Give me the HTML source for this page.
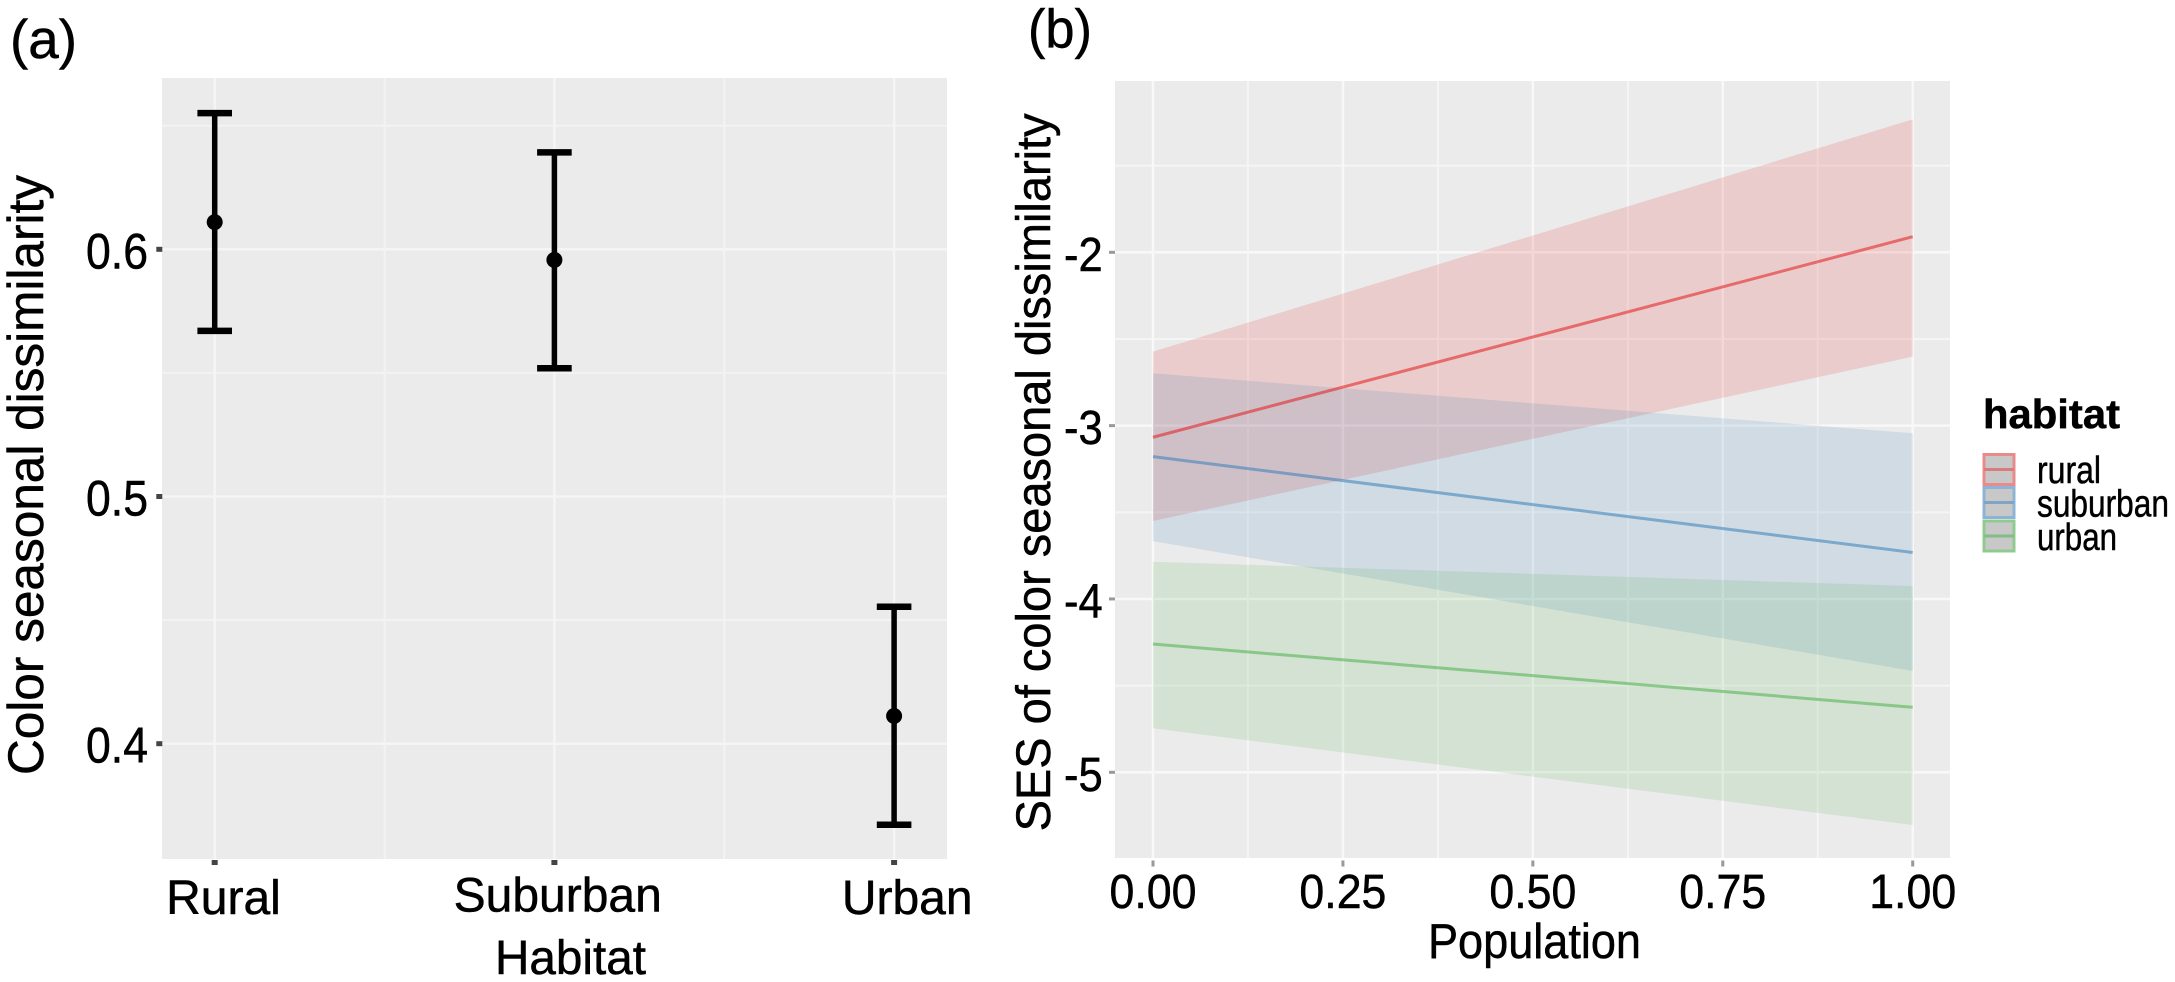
<!DOCTYPE html>
<html lang="en">
<head>
<meta charset="utf-8">
<title>Color seasonal dissimilarity by habitat and population</title>
<style>
  html, body { margin: 0; padding: 0; background: #fff; }
  body { width: 2175px; height: 982px; overflow: hidden; }
  svg { display: block; }
  text { font-family: "Liberation Sans", Arial, sans-serif; fill: #000; stroke: #000; stroke-width: 0.5px; }
</style>
</head>
<body>
<svg id="figure" xmlns="http://www.w3.org/2000/svg" width="2175" height="982" viewBox="0 0 2175 982">
  <rect x="0" y="0" width="2175" height="982" fill="#fff"/>

  <text x="10" y="58" font-size="55" textLength="67" lengthAdjust="spacingAndGlyphs">(a)</text>
  <text x="1028" y="47.5" font-size="55" textLength="64" lengthAdjust="spacingAndGlyphs">(b)</text>

  <rect x="162" y="78" width="785" height="781" fill="#ebebeb"/>
  <g id="panel-a-grid"></g>
  <g id="panel-a-marks"></g>
  <g id="panel-a-axes"></g>
  <text transform="translate(43,475) rotate(-90)" text-anchor="middle" font-size="50" textLength="600" lengthAdjust="spacingAndGlyphs">Color seasonal dissimilarity</text>
  <text x="570.5" y="974" text-anchor="middle" font-size="48" textLength="151" lengthAdjust="spacingAndGlyphs">Habitat</text>

  <rect x="1115" y="81" width="835" height="777" fill="#ebebeb"/>
  <g id="panel-b-grid"></g>
  <g id="panel-b-ribbons"></g>
  <g id="panel-b-lines"></g>
  <g id="panel-b-axes"></g>
  <text transform="translate(1050,472.4) rotate(-90)" text-anchor="middle" font-size="48" textLength="718" lengthAdjust="spacingAndGlyphs">SES of color seasonal dissimilarity</text>
  <text x="1534.5" y="958" text-anchor="middle" font-size="49" textLength="213" lengthAdjust="spacingAndGlyphs">Population</text>

  <g>
    <text x="1983" y="428" font-size="41" font-weight="bold" textLength="137" lengthAdjust="spacingAndGlyphs">habitat</text>

    <g>
      <rect x="1984" y="454.5" width="30" height="30" fill="#c8c8c8" stroke="#e98b8c" stroke-width="3"/>
      <line x1="1984" x2="2014" y1="469.5" y2="469.5" stroke="#d97c7e" stroke-width="3"/>
      <text x="2037" y="483" font-size="38" textLength="64" lengthAdjust="spacingAndGlyphs">rural</text>
    </g>
    <g>
      <rect x="1984" y="487.5" width="30" height="30" fill="#c8c8c8" stroke="#8db3d6" stroke-width="3"/>
      <line x1="1984" x2="2014" y1="502.5" y2="502.5" stroke="#7fa4c6" stroke-width="3"/>
      <text x="2037" y="516.7" font-size="38" textLength="132" lengthAdjust="spacingAndGlyphs">suburban</text>
    </g>
    <g>
      <rect x="1984" y="521" width="30" height="30" fill="#c8c8c8" stroke="#8fcb8f" stroke-width="3"/>
      <line x1="1984" x2="2014" y1="536" y2="536" stroke="#84bd85" stroke-width="3"/>
      <text x="2037" y="550" font-size="38" textLength="80" lengthAdjust="spacingAndGlyphs">urban</text>
    </g>
  </g>
</svg>

<script>
// ---- Panel (a) data ----
const habitatCategories = ["Rural", "Suburban", "Urban"];
const habitatMeans = [0.611, 0.5957, 0.4112];
const habitatLower = [0.567, 0.5519, 0.3672];
const habitatUpper = [0.6551, 0.6392, 0.4554];
const habitatYTicks = [0.4, 0.5, 0.6];
const habitatYMinorTicks = [0.45, 0.55, 0.65];
const habitatYTickLabels = ["0.4", "0.5", "0.6"];

// ---- Panel (b) data ----
const populationValues = [0, 1];
const ruralFit = [-3.067, -1.91];
const ruralLower = [-3.55, -2.602];
const ruralUpper = [-2.573, -1.233];
const suburbanFit = [-3.179, -3.732];
const suburbanLower = [-3.666, -4.415];
const suburbanUpper = [-2.698, -3.044];
const urbanFit = [-4.26, -4.625];
const urbanLower = [-4.746, -5.304];
const urbanUpper = [-3.785, -3.926];
const populationXTicks = [0, 0.25, 0.5, 0.75, 1];
const populationXMinorTicks = [0.125, 0.375, 0.625, 0.875];
const populationXTickLabels = ["0.00", "0.25", "0.50", "0.75", "1.00"];
const sesYTicks = [-5, -4, -3, -2];
const sesYMinorTicks = [-4.5, -3.5, -2.5, -1.5];
const sesYTickLabels = ["-5", "-4", "-3", "-2"];

// ---- Axis functions ----
function xA(i) { return 214.7 + i * 339.7; }
function yA(v) { return 249.3 + (0.6 - v) * 2472; }
function xB(v) { return 1153 + v * 759.7; }
function yB(v) { return 252.3 + (-2 - v) * 173.33; }

const NS = "http://www.w3.org/2000/svg";
function make(tag, parent, props) {
  const el = document.createElementNS(NS, tag);
  for (const k in props) el.setAttribute(k, props[k]);
  parent.appendChild(el);
  return el;
}

const gridA = document.getElementById("panel-a-grid");
const marksA = document.getElementById("panel-a-marks");
const axesA = document.getElementById("panel-a-axes");
const gridB = document.getElementById("panel-b-grid");
const ribbonsB = document.getElementById("panel-b-ribbons");
const linesB = document.getElementById("panel-b-lines");
const axesB = document.getElementById("panel-b-axes");

// ---- Panel (a) grid ----
habitatYMinorTicks.forEach(function (v) {
  const el = make("line", gridA, { x1: 162, x2: 947, y1: yA(v), y2: yA(v), stroke: "#f3f3f3", "stroke-width": 2 });
  
  
});
habitatYTicks.forEach(function (v) {
  const el = make("line", gridA, { x1: 162, x2: 947, y1: yA(v), y2: yA(v), stroke: "#f5f5f5", "stroke-width": 2.5 });
  
  
});
habitatCategories.forEach(function (c, i) {
  const el = make("line", gridA, { x1: xA(i), x2: xA(i), y1: 78, y2: 859, stroke: "#f5f5f5", "stroke-width": 2.5 });
  
  
  if (i < habitatCategories.length - 1) {
    const minor = make("line", gridA, { x1: xA(i + 0.5), x2: xA(i + 0.5), y1: 78, y2: 859, stroke: "#f3f3f3", "stroke-width": 2 });
    
    
  }
});

// ---- Panel (a) error bars and means ----
habitatCategories.forEach(function (c, i) {
  const x = xA(i);
  const stem = make("line", marksA, { x1: x, x2: x, y1: yA(habitatUpper[i]), y2: yA(habitatLower[i]), stroke: "#000", "stroke-width": 5.5 });
  
  
  const capTop = make("line", marksA, { x1: x - 17.3, x2: x + 17.3, y1: yA(habitatUpper[i]), y2: yA(habitatUpper[i]), stroke: "#000", "stroke-width": 6.5 });
  
  
  const capBottom = make("line", marksA, { x1: x - 17.3, x2: x + 17.3, y1: yA(habitatLower[i]), y2: yA(habitatLower[i]), stroke: "#000", "stroke-width": 6.5 });
  
  
  const dot = make("circle", marksA, { cx: x, cy: yA(habitatMeans[i]), r: 8, fill: "#000" });
  
  
});

// ---- Panel (a) axes ----
habitatYTicks.forEach(function (v, i) {
  const tick = make("rect", axesA, { x: 156.3, y: yA(v) - 2.5, width: 6, height: 5, fill: "#444" });
  
  
  const label = make("text", axesA, { x: 148, y: yA(v) + 19, "text-anchor": "end", "font-size": 50, textLength: 62, lengthAdjust: "spacingAndGlyphs" });
  label.textContent = habitatYTickLabels[i];
  
  
});
function categoryLabelNudge(i) { return i === 0 ? 8.8 : i === 1 ? 3.3 : 13.1; }
function categoryLabelBaseline(i) { return i === 1 ? 911.5 : 914; }
habitatCategories.forEach(function (c, i) {
  const tick = make("rect", axesA, { x: xA(i) - 3, y: 860, width: 6, height: 5, fill: "#444" });
  
  
  const label = make("text", axesA, { x: xA(i) + categoryLabelNudge(i), y: categoryLabelBaseline(i), "text-anchor": "middle", "font-size": 48 });
  label.textContent = c;
  
  
});

// ---- Panel (b) grid ----
sesYMinorTicks.forEach(function (v) {
  const el = make("line", gridB, { x1: 1115, x2: 1950, y1: yB(v), y2: yB(v), stroke: "#f5f5f5", "stroke-width": 2 });
  
  
});
sesYTicks.forEach(function (v) {
  const el = make("line", gridB, { x1: 1115, x2: 1950, y1: yB(v), y2: yB(v), stroke: "#f8f8f8", "stroke-width": 2.5 });
  
  
});
populationXMinorTicks.forEach(function (v) {
  const el = make("line", gridB, { x1: xB(v), x2: xB(v), y1: 81, y2: 858, stroke: "#f5f5f5", "stroke-width": 2 });
  
  
});
populationXTicks.forEach(function (v) {
  const el = make("line", gridB, { x1: xB(v), x2: xB(v), y1: 81, y2: 858, stroke: "#f8f8f8", "stroke-width": 2.5 });
  
  
});

// ---- Panel (b) ribbons and fitted lines ----
function ribbonPoints(lower, upper) {
  const top = populationValues.map(function (p, i) { return xB(p) + "," + yB(upper[i]); });
  const bottom = populationValues.map(function (p, i) { return xB(p) + "," + yB(lower[i]); }).reverse();
  return top.concat(bottom).join(" ");
}
function linePoints(fit) {
  return populationValues.map(function (p, i) { return xB(p) + "," + yB(fit[i]); }).join(" ");
}

const ribbonRural = make("polygon", ribbonsB, { points: ribbonPoints(ruralLower, ruralUpper), fill: "#E41A1C", "fill-opacity": 0.15 });


const ribbonSuburban = make("polygon", ribbonsB, { points: ribbonPoints(suburbanLower, suburbanUpper), fill: "#377EB8", "fill-opacity": 0.15 });


const ribbonUrban = make("polygon", ribbonsB, { points: ribbonPoints(urbanLower, urbanUpper), fill: "#4DAF4A", "fill-opacity": 0.15 });



const lineRural = make("polyline", linesB, { points: linePoints(ruralFit), fill: "none", stroke: "#E41A1C", "stroke-opacity": 0.55, "stroke-width": 3 });


const lineSuburban = make("polyline", linesB, { points: linePoints(suburbanFit), fill: "none", stroke: "#377EB8", "stroke-opacity": 0.55, "stroke-width": 3 });


const lineUrban = make("polyline", linesB, { points: linePoints(urbanFit), fill: "none", stroke: "#4DAF4A", "stroke-opacity": 0.55, "stroke-width": 3 });



// ---- Panel (b) axes ----
sesYTicks.forEach(function (v, i) {
  const tick = make("rect", axesB, { x: 1109, y: yB(v) - 1.5, width: 6, height: 3, fill: "#999" });
  
  
  const label = make("text", axesB, { x: 1102.7, y: yB(v) + 18.5, "text-anchor": "end", "font-size": 48, textLength: 38.7, lengthAdjust: "spacingAndGlyphs" });
  label.textContent = sesYTickLabels[i];
  
  
});
populationXTicks.forEach(function (v, i) {
  const tick = make("rect", axesB, { x: xB(v) - 1.5, y: 860.5, width: 3, height: 6, fill: "#999" });
  
  
  const label = make("text", axesB, { x: xB(v), y: 908, "text-anchor": "middle", "font-size": 48, textLength: 87, lengthAdjust: "spacingAndGlyphs" });
  label.textContent = populationXTickLabels[i];
  
  
});
</script>
</body>
</html>
